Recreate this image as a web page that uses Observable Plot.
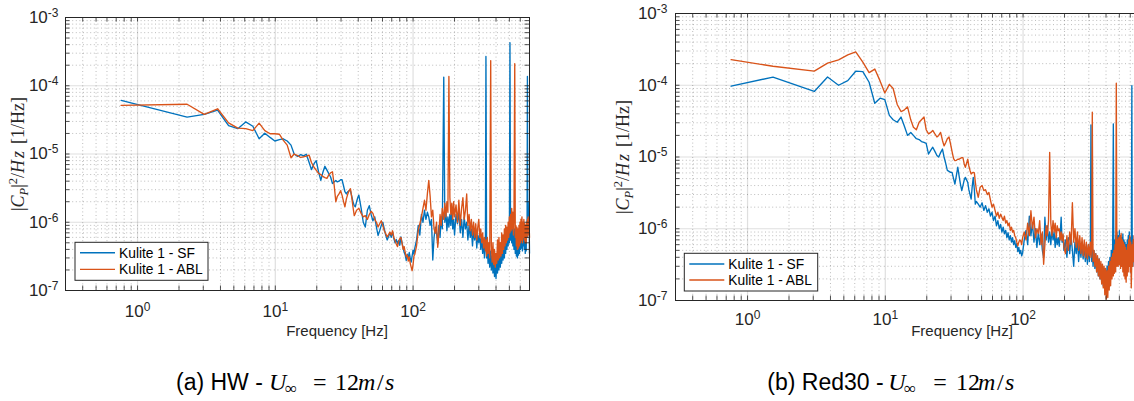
<!DOCTYPE html>
<html>
<head>
<meta charset="utf-8">
<script src="https://cdn.jsdelivr.net/npm/d3@7"></script>
<script src="https://cdn.jsdelivr.net/npm/@observablehq/plot@0.6"></script>
<style>
html,body{margin:0;padding:0;background:#fff;}
#root{position:relative;width:1134px;height:401px;overflow:hidden;background:#fff;}
#root > svg{position:absolute;top:0;}
</style>
</head>
<body>
<div id="root"></div>
<script>
// ---------- data: panel (a) HW ----------
const freqA = [
  0.76, 2.29, 3.05, 3.81, 4.58, 5.34, 6.10, 6.87, 7.63, 8.39,
  9.16, 9.92, 10.7, 11.4, 12.2, 13.0, 13.7, 14.5, 15.3, 16.0,
  16.8, 17.6, 18.3, 19.1, 19.8, 20.6, 21.4, 22.1, 22.9, 23.7,
  24.4, 25.2, 26.0, 26.7, 27.5, 28.2, 29.0, 29.8, 30.5, 31.3,
  32.0, 32.8, 33.6, 34.3, 35.1, 35.9, 36.6, 37.4, 38.1, 38.9,
  39.7, 40.4, 42.0, 43.5, 45.0, 46.6, 48.1, 49.6, 51.1, 52.7,
  54.2, 55.7, 57.2, 58.8, 60.3, 61.8, 63.3, 64.9, 66.4, 67.9,
  69.4, 71.0, 72.5, 74.0, 75.5, 77.1, 78.6, 80.1, 81.6, 83.2,
  84.7, 86.2, 87.7, 89.3, 90.8, 92.3, 93.8, 95.4, 96.9, 98.4,
  100, 101.5, 103, 106, 109, 112, 115, 118, 121, 124,
  127, 130, 133, 136, 139, 142, 145, 148, 151, 154,
  157, 160, 163, 167, 170, 173, 176, 179, 182, 185,
  188, 191, 194, 197, 200, 205, 210, 215, 220, 225,
  230, 235, 240, 245, 250, 255, 260, 265, 270, 275,
  280, 285, 290, 295, 300, 305, 310, 315, 320, 325,
  330, 335, 338, 342, 346, 350, 355, 360, 366, 370,
  375, 380, 385, 390, 395, 400, 405, 410, 415, 420,
  425, 430, 435, 440, 445, 450, 455, 460, 465, 470,
  475, 480, 485, 490, 495, 500, 505, 510, 515, 520,
  525, 530, 535, 540, 547, 552, 557, 562, 567, 572,
  577, 582, 587, 592, 597, 602, 607, 612, 617, 622,
  627, 632, 637, 642, 647, 652, 657, 662, 667, 672,
  676, 680, 685, 690, 695, 700
];
const sfA = [
  6.1e-5, 3.47e-5, 3.8e-5, 4.4e-5, 2.6e-5, 2.35e-5, 2.95e-5, 2.55e-5, 1.67e-5, 2.02e-5,
  1.75e-5, 1.55e-5, 1.62e-5, 1.67e-5, 1.55e-5, 1.35e-5, 1.0e-5, 9.2e-6, 9.8e-6, 9.4e-6,
  9.9e-6, 7.5e-6, 5.9e-6, 7.2e-6, 8.0e-6, 5.5e-6, 4.1e-6, 5.3e-6, 6.6e-6, 5.8e-6,
  5.2e-6, 4.6e-6, 3.7e-6, 3.9e-6, 4.1e-6, 3.9e-6, 4.0e-6, 4.2e-6, 4.2e-6, 3.4e-6,
  2.8e-6, 2.6e-6, 2.8e-6, 2.9e-6, 2.9e-6, 2.4e-6, 2.0e-6, 1.75e-6, 1.68e-6, 2.0e-6,
  2.3e-6, 2.5e-6, 1.6e-6, 1.0e-6, 8.5e-7, 1.5e-6, 1.75e-6, 1.3e-6, 1.05e-6, 1.2e-6,
  8.5e-7, 6.4e-7, 7.5e-7, 9.0e-7, 1.0e-6, 8.0e-7, 6.5e-7, 5.5e-7, 6.2e-7, 7.0e-7,
  6.0e-7, 7.2e-7, 5.8e-7, 5.0e-7, 5.6e-7, 4.9e-7, 5.4e-7, 4.6e-7, 6.1e-7, 5.0e-7,
  4.2e-7, 3.6e-7, 3.3e-7, 2.75e-7, 3.4e-7, 3.0e-7, 3.6e-7, 3.0e-7, 2.6e-7, 3.2e-7,
  3.9e-7, 3.4e-7, 4.2e-7, 5.5e-7, 9.0e-7, 6.5e-7, 1.3e-6, 1.0e-6, 1.5e-6, 1.1e-6,
  1.4e-6, 1.2e-6, 9.0e-7, 1.1e-6, 2.8e-7, 6.0e-7, 8.5e-7, 7.0e-7, 4.8e-7, 9.0e-7,
  6.0e-7, 1.2e-6, 8.0e-7, 1.34e-4, 1.0e-6, 1.5e-6, 7.5e-7, 1.2e-6, 8.5e-7, 1.3e-6,
  9.0e-7, 1.6e-6, 8.0e-7, 1.1e-6, 6.5e-7, 1.3e-6, 9.5e-7, 1.4e-6, 7.0e-7, 1.1e-6,
  6.0e-7, 1.2e-6, 8.0e-7, 1.0e-6, 5.5e-7, 9.0e-7, 6.0e-7, 8.0e-7, 4.5e-7, 7.5e-7,
  5.5e-7, 8.0e-7, 4.2e-7, 6.5e-7, 5.0e-7, 7.0e-7, 4.0e-7, 6.0e-7, 3.5e-7, 5.0e-7,
  3.0e-7, 4.5e-7, 2.68e-4, 3.0e-7, 5.0e-7, 2.5e-7, 4.0e-7, 2.2e-7, 3.8e-7, 2.0e-7,
  3.2e-7, 1.8e-7, 3.0e-7, 1.6e-7, 2.6e-7, 1.5e-7, 2.8e-7, 1.8e-7, 3.5e-7, 2.0e-7,
  4.0e-7, 2.2e-7, 4.5e-7, 2.5e-7, 5.0e-7, 2.8e-7, 5.5e-7, 3.0e-7, 6.0e-7, 3.5e-7,
  6.5e-7, 4.0e-7, 8.0e-7, 4.5e-7, 9.0e-7, 5.0e-7, 4.26e-4, 5.5e-7, 1.0e-6, 5.0e-7,
  1.1e-6, 4.5e-7, 9.0e-7, 4.0e-7, 8.0e-7, 3.5e-7, 7.0e-7, 3.2e-7, 6.5e-7, 3.0e-7,
  6.0e-7, 3.3e-7, 7.0e-7, 3.5e-7, 8.0e-7, 4.0e-7, 9.0e-7, 4.2e-7, 8.5e-7, 3.8e-7,
  9.0e-7, 4.5e-7, 1.0e-6, 4.0e-7, 8.0e-7, 3.5e-7, 7.5e-7, 3.8e-7, 9.0e-7, 6.0e-7,
  1.37e-4, 1.5e-6, 2.0e-6, 8.0e-7, 1.2e-6, 3.5e-7
];
const ablA = [
  5.15e-5, 5.35e-5, 3.8e-5, 4.6e-5, 2.85e-5, 2.4e-5, 2.35e-5, 2.2e-5, 2.83e-5, 2.2e-5,
  1.98e-5, 1.98e-5, 1.95e-5, 1.6e-5, 1.35e-5, 8.8e-6, 1.0e-5, 9.5e-6, 8.9e-6, 9.1e-6,
  9.3e-6, 9.6e-6, 7.5e-6, 6.4e-6, 5.8e-6, 5.2e-6, 5.0e-6, 4.7e-6, 4.5e-6, 4.4e-6,
  4.9e-6, 5.3e-6, 5.5e-6, 3.6e-6, 2.0e-6, 2.4e-6, 2.6e-6, 2.9e-6, 2.5e-6, 2.0e-6,
  1.68e-6, 2.2e-6, 2.6e-6, 2.9e-6, 3.1e-6, 2.3e-6, 1.7e-6, 1.25e-6, 1.35e-6, 1.5e-6,
  1.55e-6, 1.6e-6, 1.35e-6, 1.2e-6, 1.25e-6, 1.1e-6, 1.3e-6, 1.45e-6, 1.35e-6, 1.1e-6,
  1.0e-6, 8.5e-7, 9.5e-7, 1.05e-6, 9.0e-7, 7.5e-7, 6.8e-7, 6.1e-7, 6.6e-7, 7.2e-7,
  6.5e-7, 7.5e-7, 6.0e-7, 5.4e-7, 4.8e-7, 4.4e-7, 5.2e-7, 5.8e-7, 6.0e-7, 4.9e-7,
  4.0e-7, 4.4e-7, 3.6e-7, 3.1e-7, 3.3e-7, 2.7e-7, 3.1e-7, 2.5e-7, 2.2e-7, 1.95e-7,
  2.4e-7, 3.2e-7, 3.4e-7, 4.5e-7, 7.6e-7, 9.5e-7, 1.2e-6, 1.6e-6, 2.1e-6, 1.5e-6,
  2.6e-6, 4.1e-6, 2.4e-6, 1.2e-6, 1.5e-6, 8.0e-7, 6.9e-7, 1.0e-6, 4.3e-7, 7.0e-7,
  1.3e-6, 9.0e-7, 1.6e-6, 1.1e-6, 1.9e-6, 1.2e-6, 2.0e-6, 1.4e-6, 1.37e-4, 2.3e-6,
  1.3e-6, 1.9e-6, 1.1e-6, 2.0e-6, 1.2e-6, 1.8e-6, 1.0e-6, 2.1e-6, 9.0e-7, 1.6e-6,
  2.3e-6, 1.1e-6, 1.5e-6, 2.6e-6, 9.0e-7, 1.3e-6, 7.5e-7, 1.1e-6, 6.5e-7, 1.0e-6,
  6.0e-7, 9.5e-7, 5.5e-7, 8.5e-7, 1.1e-6, 6.0e-7, 8.0e-7, 5.0e-7, 7.0e-7, 4.2e-7,
  6.0e-7, 3.8e-7, 5.5e-7, 3.2e-7, 6.0e-7, 3.5e-7, 5.0e-7, 3.0e-7, 2.34e-4, 4.5e-7,
  2.6e-7, 5.0e-7, 2.4e-7, 4.0e-7, 2.2e-7, 3.5e-7, 2.5e-7, 5.5e-7, 2.8e-7, 6.0e-7,
  3.0e-7, 5.0e-7, 3.2e-7, 7.0e-7, 3.5e-7, 6.5e-7, 4.0e-7, 8.0e-7, 4.5e-7, 9.0e-7,
  5.0e-7, 8.5e-7, 5.5e-7, 1.0e-6, 6.0e-7, 1.2e-6, 7.0e-7, 1.3e-6, 7.5e-7, 1.6e-6,
  8.0e-7, 1.4e-6, 6.5e-7, 1.1e-6, 2.1e-4, 6.0e-7, 9.0e-7, 4.5e-7, 8.5e-7, 4.0e-7,
  8.0e-7, 4.2e-7, 9.0e-7, 4.5e-7, 1.0e-6, 5.0e-7, 1.1e-6, 5.5e-7, 1.2e-6, 5.0e-7,
  1.0e-6, 6.0e-7, 1.1e-6, 5.5e-7, 9.5e-7, 5.0e-7, 9.0e-7, 5.0e-7, 1.0e-6, 6.0e-7,
  1.1e-6, 7.0e-7, 1.2e-6, 6.5e-7, 1.0e-6, 6.0e-7
];

// ---------- data: panel (b) Red30 ----------
const freqB = [
  0.76, 1.53, 3.05, 3.81, 4.58, 5.34, 6.10, 6.87, 7.63, 8.39,
  9.16, 9.92, 10.7, 11.4, 12.2, 13.0, 13.7, 14.5, 15.3, 16.0,
  16.8, 17.6, 18.3, 19.1, 19.8, 20.6, 21.4, 22.1, 22.9, 23.7,
  24.4, 25.2, 26.0, 26.7, 27.5, 28.2, 29.0, 29.8, 30.5, 31.3,
  32.0, 32.8, 33.6, 34.3, 35.1, 35.9, 36.6, 37.4, 38.1, 38.9,
  39.7, 40.4, 41.2, 42.0, 42.7, 43.5, 44.3, 45.0, 45.8, 47.3,
  48.8, 50.4, 51.9, 53.4, 55.0, 56.5, 58.0, 59.5, 61.0, 62.6,
  64.1, 65.6, 67.2, 68.7, 70.2, 71.7, 73.2, 74.8, 76.3, 77.8,
  79.3, 80.9, 82.4, 83.9, 85.4, 87.0, 88.5, 90.0, 91.6, 93.1,
  94.6, 96.1, 97.7, 99.2, 102, 105, 108, 111, 114, 117,
  120, 123, 126, 129, 132, 135, 138, 141, 144, 147,
  150, 153, 156, 159, 162, 165, 168, 171, 174, 177,
  180, 183, 186, 189, 192, 195, 198, 203, 208, 213,
  218, 223, 228, 233, 238, 243, 248, 253, 258, 263,
  268, 273, 278, 283, 288, 293, 298, 303, 308, 311,
  315, 318, 322, 327, 332, 337, 342, 347, 352, 357,
  362, 367, 372, 377, 382, 387, 392, 397, 402, 407,
  412, 417, 422, 427, 432, 437, 442, 447, 452, 456,
  460, 465, 470, 475, 480, 485, 490, 495, 500, 505,
  510, 515, 520, 525, 530, 535, 540, 545, 550, 555,
  560, 565, 570, 575, 580, 585, 590, 595, 600, 605,
  610, 616, 620, 625, 630, 635, 640, 645, 650, 655,
  660, 665, 670, 675, 680, 685, 690, 695, 700
];
const sfB = [
  9.7e-5, 1.3e-4, 8.2e-5, 1.3e-4, 1.0e-4, 1.16e-4, 1.57e-4, 1.55e-4, 1.1e-4, 5.6e-5,
  6.6e-5, 6.3e-5, 3.8e-5, 3.3e-5, 3.05e-5, 3.6e-5, 2.75e-5, 2.0e-5, 2.2e-5, 2.0e-5,
  1.8e-5, 1.75e-5, 1.64e-5, 1.6e-5, 1.55e-5, 1.1e-5, 1.25e-5, 1.37e-5, 1.2e-5, 1.05e-5,
  1.0e-5, 1.15e-5, 1.29e-5, 1.0e-5, 8.0e-6, 6.5e-6, 6.3e-6, 6.1e-6, 6.1e-6, 5.0e-6,
  4.2e-6, 5.5e-6, 7.2e-6, 5.5e-6, 4.2e-6, 3.4e-6, 4.0e-6, 4.8e-6, 5.2e-6, 4.8e-6,
  4.4e-6, 3.5e-6, 3.0e-6, 2.6e-6, 3.8e-6, 5.2e-6, 3.5e-6, 2.2e-6, 2.4e-6, 2.2e-6,
  2.0e-6, 2.3e-6, 1.8e-6, 2.1e-6, 1.7e-6, 1.9e-6, 1.5e-6, 1.7e-6, 1.3e-6, 1.5e-6,
  1.1e-6, 1.3e-6, 1.0e-6, 1.15e-6, 9.0e-7, 1.05e-6, 8.5e-7, 9.5e-7, 7.5e-7, 8.8e-7,
  7.0e-7, 8.0e-7, 6.5e-7, 7.5e-7, 6.0e-7, 6.8e-7, 5.5e-7, 6.2e-7, 4.8e-7, 5.5e-7,
  4.5e-7, 5.0e-7, 4.2e-7, 4.6e-7, 7.0e-7, 9.5e-7, 6.0e-7, 1.5e-6, 8.0e-7, 1.2e-6,
  6.5e-7, 1.0e-6, 5.5e-7, 9.0e-7, 6.0e-7, 8.5e-7, 5.0e-7, 4.0e-7, 1.45e-6, 7.0e-7,
  1.1e-6, 6.5e-7, 9.0e-7, 6.0e-7, 1.0e-6, 7.0e-7, 9.0e-7, 5.5e-7, 8.0e-7, 6.0e-7,
  7.5e-7, 5.7e-7, 8.5e-7, 1.45e-6, 6.5e-7, 8.0e-7, 5.0e-7, 7.0e-7, 4.0e-7, 7.5e-7,
  4.5e-7, 8.0e-7, 5.0e-7, 3.0e-7, 6.5e-7, 4.5e-7, 7.0e-7, 3.5e-7, 6.0e-7, 4.0e-7,
  6.5e-7, 3.8e-7, 6.0e-7, 3.5e-7, 5.5e-7, 3.2e-7, 6.0e-7, 3.5e-7, 5.5e-7, 2.8e-5,
  3.5e-7, 6.0e-7, 3.0e-7, 5.0e-7, 2.8e-7, 4.5e-7, 2.5e-7, 4.0e-7, 2.2e-7, 3.8e-7,
  2.0e-7, 3.2e-7, 1.8e-7, 3.0e-7, 1.6e-7, 2.8e-7, 1.5e-7, 2.6e-7, 1.5e-7, 3.0e-7,
  1.7e-7, 3.5e-7, 2.0e-7, 4.0e-7, 2.2e-7, 5.0e-7, 2.5e-7, 6.0e-7, 2.9e-5, 3.0e-7,
  7.0e-7, 3.2e-7, 8.0e-7, 3.5e-7, 9.0e-7, 3.5e-7, 8.0e-7, 3.2e-7, 9.4e-7, 3.5e-7,
  8.0e-7, 3.0e-7, 7.5e-7, 3.3e-7, 8.5e-7, 3.0e-7, 7.0e-7, 2.8e-7, 6.5e-7, 2.6e-7,
  6.0e-7, 2.4e-7, 7.0e-7, 3.0e-7, 8.0e-7, 3.5e-7, 9.0e-7, 4.0e-7, 7.5e-7, 3.2e-7,
  2.4e-7, 9.9e-5, 4.0e-7, 8.0e-7, 3.5e-7, 7.0e-7, 3.0e-7, 6.5e-7, 3.5e-7, 7.0e-7,
  4.0e-7, 7.5e-7, 3.5e-7, 6.5e-7, 3.0e-7, 6.0e-7, 3.5e-7, 5.5e-7, 3.0e-7
];
const ablB = [
  2.28e-4, 1.84e-4, 1.57e-4, 2.03e-4, 2.26e-4, 2.65e-4, 2.92e-4, 2.1e-4, 1.5e-4, 1.68e-4,
  1.15e-4, 7.8e-5, 1.03e-4, 9.0e-5, 5.4e-5, 4.3e-5, 4.5e-5, 5.0e-5, 3.3e-5, 2.6e-5,
  2.4e-5, 3.05e-5, 3.3e-5, 3.6e-5, 2.4e-5, 2.1e-5, 2.2e-5, 2.35e-5, 2.1e-5, 1.9e-5,
  2.0e-5, 2.2e-5, 1.7e-5, 1.43e-5, 1.6e-5, 1.8e-5, 1.9e-5, 1.5e-5, 1.2e-5, 9.5e-6,
  8.9e-6, 9.0e-6, 9.3e-6, 9.3e-6, 9.6e-6, 9.8e-6, 9.8e-6, 8.0e-6, 7.2e-6, 8.2e-6,
  9.3e-6, 7.5e-6, 6.5e-6, 5.8e-6, 6.0e-6, 6.1e-6, 6.0e-6, 4.5e-6, 3.5e-6, 2.75e-6,
  3.8e-6, 4.0e-6, 3.4e-6, 3.5e-6, 3.0e-6, 3.2e-6, 2.5e-6, 2.0e-6, 2.2e-6, 1.8e-6,
  1.5e-6, 1.7e-6, 1.4e-6, 1.6e-6, 1.45e-6, 1.3e-6, 1.5e-6, 1.2e-6, 1.3e-6, 1.1e-6,
  1.2e-6, 9.5e-7, 1.05e-6, 9.0e-7, 9.5e-7, 8.0e-7, 7.5e-7, 6.5e-7, 5.8e-7, 6.5e-7,
  7.0e-7, 6.8e-7, 6.0e-7, 7.5e-7, 9.0e-7, 7.0e-7, 1.2e-6, 8.0e-7, 1.78e-6, 1.0e-6,
  1.45e-6, 7.5e-7, 1.0e-6, 8.6e-7, 1.3e-6, 6.0e-7, 9.0e-7, 3.2e-7, 6.0e-7, 1.1e-6,
  8.0e-7, 1.3e-6, 1.16e-5, 1.2e-6, 8.0e-7, 1.3e-6, 9.0e-7, 1.2e-6, 7.5e-7, 1.1e-6,
  9.4e-7, 1.0e-6, 7.0e-7, 9.0e-7, 6.8e-7, 8.5e-7, 5.5e-7, 4.5e-7, 8.0e-7, 5.0e-7,
  9.0e-7, 6.0e-7, 2.3e-6, 6.5e-7, 1.0e-6, 5.5e-7, 9.0e-7, 5.0e-7, 8.0e-7, 4.5e-7,
  7.5e-7, 4.2e-7, 7.0e-7, 4.0e-7, 6.5e-7, 3.8e-7, 6.0e-7, 4.2e-7, 6.5e-7, 4.0e-7,
  5.5e-7, 4.2e-5, 3.5e-7, 5.0e-7, 3.0e-7, 4.5e-7, 2.5e-7, 4.2e-7, 2.2e-7, 3.8e-7,
  2.0e-7, 3.5e-7, 1.7e-7, 3.2e-7, 1.5e-7, 3.0e-7, 1.2e-7, 2.8e-7, 1.05e-7, 2.6e-7,
  1.1e-7, 3.0e-7, 1.4e-7, 3.5e-7, 1.6e-7, 4.0e-7, 2.0e-7, 4.5e-7, 2.2e-7, 5.0e-7,
  2.4e-7, 6.0e-7, 2.5e-7, 1.07e-4, 3.0e-7, 7.0e-7, 3.0e-7, 7.5e-7, 3.2e-7, 8.0e-7,
  2.8e-7, 8.6e-7, 3.0e-7, 7.0e-7, 2.5e-7, 6.5e-7, 2.2e-7, 6.0e-7, 2.0e-7, 5.5e-7,
  1.8e-7, 5.0e-7, 2.2e-7, 6.0e-7, 2.5e-7, 7.0e-7, 3.0e-7, 8.0e-7, 2.5e-7, 6.5e-7,
  1.5e-7, 4.0e-7, 6.0e-7, 3.0e-7, 7.0e-7, 3.5e-7, 8.0e-7, 4.0e-7, 1.0e-4, 5.0e-7,
  8.0e-7, 4.0e-7, 7.5e-7, 3.5e-7, 7.0e-7, 3.0e-7, 6.5e-7, 3.0e-7, 5.0e-7
];

// ---------- labels / styling ----------
const seriesNames = ["Kulite 1 - SF", "Kulite 1 - ABL"];
const seriesColors = ["#0072BD", "#D95319"];
const xDomain = [0.3, 700];
const yDomain = [1e-7, 1e-3];
const xTitle = "Frequency [Hz]";
const captionPrefixes = ["(a) HW - ", "(b) Red30 - "];
const axisColor = "#262626";

[[freqA, sfA, ablA, "A"], [freqB, sfB, ablB, "B"]].forEach(([f, s, a, n]) => {
  if (f.length !== s.length || f.length !== a.length) console.error("length mismatch " + n, f.length, s.length, a.length);
});

const root = document.getElementById("root");
const isDecade = v => Math.abs(Math.log10(v) - Math.round(Math.log10(v))) < 1e-9;
const expFmt = d => String(Math.round(Math.log10(d)));

function drawPanel({freq, sf, abl, left, mLeft, mTop, frameW, frameH, mRight, mBottom, xPad, yPad}) {
  const width = mLeft + frameW + mRight, height = mTop + frameH + mBottom;
  const xTicks = d3.scaleLog().domain(xDomain).ticks();
  const yTicks = d3.scaleLog().domain(yDomain).ticks();
  const xMajor = xTicks.filter(isDecade), xMinor = xTicks.filter(v => !isDecade(v));
  const yMajor = yTicks.filter(isDecade), yMinor = yTicks.filter(v => !isDecade(v));
  const rows = [];
  freq.forEach((f, i) => rows.push({f, v: sf[i], s: seriesNames[0]}));
  freq.forEach((f, i) => rows.push({f, v: abl[i], s: seriesNames[1]}));
  const tl = 4.5;
  const svg = Plot.plot({
    width, height,
    marginLeft: mLeft, marginRight: mRight, marginTop: mTop, marginBottom: mBottom,
    style: {fontFamily: "'Liberation Sans', Arial, Helvetica, sans-serif", fontSize: "16px", color: axisColor, background: "transparent", overflow: "visible"},
    x: {type: "log", domain: xDomain, label: null, ticks: xMajor, tickSize: 0, tickPadding: xPad, tickFormat: expFmt},
    y: {type: "log", domain: yDomain, label: null, ticks: yMajor, tickSize: 0, tickPadding: yPad, tickFormat: expFmt},
    color: {domain: seriesNames, range: seriesColors},
    marks: [
      Plot.ruleX(xMinor, {stroke: axisColor, strokeOpacity: 0.3, strokeDasharray: "1,2.6"}),
      Plot.ruleY(yMinor, {stroke: axisColor, strokeOpacity: 0.3, strokeDasharray: "1,2.6"}),
      Plot.ruleX(xMajor, {stroke: axisColor, strokeOpacity: 0.15, strokeWidth: 1.2}),
      Plot.ruleY(yMajor, {stroke: axisColor, strokeOpacity: 0.15, strokeWidth: 1.2}),
      Plot.line(rows, {x: "f", y: "v", z: "s", stroke: "s", strokeWidth: 1.35}),
      Plot.tickX(xTicks, {insetTop: frameH - tl, stroke: axisColor, strokeWidth: 0.8}),
      Plot.tickX(xTicks, {insetBottom: frameH - tl, stroke: axisColor, strokeWidth: 0.8}),
      Plot.tickY(yTicks, {insetRight: frameW - tl, stroke: axisColor, strokeWidth: 0.8}),
      Plot.tickY(yTicks, {insetLeft: frameW - tl, stroke: axisColor, strokeWidth: 0.8}),
      Plot.frame({stroke: axisColor, strokeWidth: 1})
    ]
  });
  svg.style.left = left + "px";
  // turn exponent tick labels into 10^n with a superscript
  const sel = svg.querySelectorAll('g[aria-label="x-axis tick label"] text, g[aria-label="y-axis tick label"] text, g[aria-label="x-axis"] .tick text, g[aria-label="y-axis"] .tick text');
  sel.forEach(t => {
    const e = t.textContent;
    while (t.firstChild) t.removeChild(t.firstChild);
    t.appendChild(document.createTextNode("10"));
    const sup = document.createElementNS("http://www.w3.org/2000/svg", "tspan");
    sup.setAttribute("dy", "-0.5em");
    sup.setAttribute("font-size", "12px");
    sup.textContent = e;
    t.appendChild(sup);
    t.setAttribute("fill", axisColor);
    t.setAttribute("font-size", "17px");
    t.style.fontSize = "17px";
  });
  root.appendChild(svg);
}

drawPanel({freq: freqA, sf: sfA, abl: ablA, left: 0, mLeft: 65, mTop: 17, frameW: 464, frameH: 273, mRight: 31, mBottom: 55, xPad: 14, yPad: 7});
drawPanel({freq: freqB, sf: sfB, abl: ablB, left: 575, mLeft: 100, mTop: 13, frameW: 464, frameH: 287, mRight: 31, mBottom: 45, xPad: 12, yPad: 8});

// ---------- overlay: axis titles, legends, captions ----------
function yLabel(x, y) {
  return `<text transform="translate(${x},${y}) rotate(-90)" text-anchor="middle" font-family="'Liberation Serif','Times New Roman',serif" font-size="18" fill="${axisColor}">` +
    `<tspan>|</tspan><tspan font-style="italic">C</tspan><tspan font-style="italic" font-size="12.5" dy="4">P</tspan>` +
    `<tspan dy="-4">|</tspan><tspan font-size="12.5" dy="-7">2</tspan><tspan dy="7">/</tspan>` +
    `<tspan font-style="italic" letter-spacing="2">Hz</tspan><tspan dx="5">[1/Hz]</tspan></text>`;
}
function legend(x, y, w, h, y1, y2) {
  const ff = `font-family="'Liberation Sans',Arial,sans-serif" font-size="13.8" fill="#000"`;
  return `<rect x="${x}" y="${y}" width="${w}" height="${h}" fill="#fff" stroke="${axisColor}" stroke-width="1"/>` +
    `<line x1="${x + 5}" x2="${x + 40}" y1="${y1}" y2="${y1}" stroke="${seriesColors[0]}" stroke-width="1.35"/>` +
    `<line x1="${x + 5}" x2="${x + 40}" y1="${y2}" y2="${y2}" stroke="${seriesColors[1]}" stroke-width="1.35"/>` +
    `<text x="${x + 44}" y="${y1 + 5}" ${ff}>${seriesNames[0]}</text>` +
    `<text x="${x + 44}" y="${y2 + 5}" ${ff}>${seriesNames[1]}</text>`;
}
function caption(prefix, x0, xs) {
  return `<text x="${x0}" y="390" font-family="'Liberation Sans',Arial,sans-serif" font-size="23" fill="#000">${prefix}</text>` +
    `<text y="390" font-family="'Liberation Serif','Times New Roman',serif" font-size="24" fill="#000">` +
    `<tspan x="${xs[0]}" font-style="italic">U</tspan><tspan x="${xs[1]}" dy="4" font-size="17">∞</tspan>` +
    `<tspan x="${xs[2]}" dy="-4">=</tspan><tspan x="${xs[3]}">12</tspan><tspan x="${xs[4]}" font-style="italic">m</tspan>` +
    `<tspan x="${xs[5]}">/</tspan><tspan x="${xs[6]}" font-style="italic">s</tspan></text>`;
}
const ov = `<svg xmlns="http://www.w3.org/2000/svg" width="1134" height="401" style="left:0;top:0">` +
  yLabel(24, 154) + yLabel(629, 157) +
  `<text x="337" y="336" text-anchor="middle" font-family="'Liberation Sans',Arial,sans-serif" font-size="15" fill="${axisColor}">${xTitle}</text>` +
  `<text x="962" y="336" text-anchor="middle" font-family="'Liberation Sans',Arial,sans-serif" font-size="15" fill="${axisColor}">${xTitle}</text>` +
  legend(75, 242.3, 133, 38, 252.7, 269.3) +
  legend(684.3, 253.3, 133.4, 37.7, 264, 280) +
  caption(captionPrefixes[0], 176, [269, 285, 313, 335, 358, 377, 385]) +
  caption(captionPrefixes[1], 767.3, [888.3, 904, 933.3, 956, 978, 997, 1005]) +
  `</svg>`;
root.insertAdjacentHTML("beforeend", ov);
</script>
</body>
</html>
